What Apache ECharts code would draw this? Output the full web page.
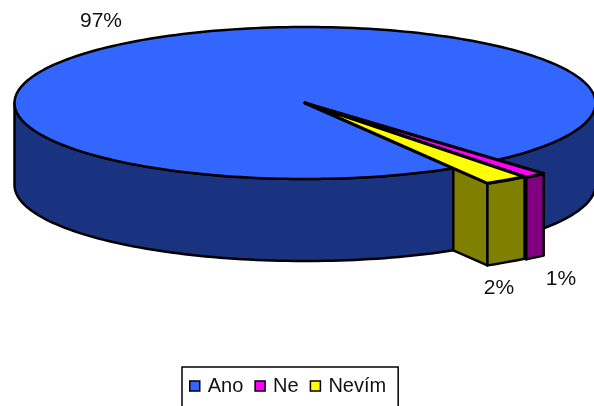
<!DOCTYPE html>
<html>
<head>
<meta charset="utf-8">
<style>html,body{margin:0;padding:0;background:#fff;overflow:hidden}#chart{width:594px;height:406px}</style>
<script src="https://cdn.jsdelivr.net/npm/echarts@6/dist/echarts.min.js"></script>
</head>
<body>
<div id="chart"></div>
<script>
// Answer shares in percent, in clockwise slice order
const categories = ['Ano', 'Ne', 'Nevím'];
const shares = [97, 1, 2];

const topColors = ['#3366FF', '#FF00FF', '#FFFF00'];
const wallColors = ['#1A3380', '#800080', '#808000'];

// Disc projection: a tilted cylinder seen from above
const disc = { cx: 305, cy: 103, rx: 290.5, ry: 76, depth: 82 };
const firstSliceAngle = 48.5;          // degrees clockwise from east where "Ne" begins
const pulledRadius = { Ano: 1, Ne: 1.24, 'Nevím': 1.23 };
const labelCentres = { Ano: [101, 21], Ne: [561, 279], 'Nevím': [499, 288] };

const outline = { stroke: '#000', lineWidth: 2.5, lineJoin: 'round' };
const total = shares.reduce((a, b) => a + b, 0);

// Slices run clockwise Ne, Nevím, Ano from the starting angle
const spans = {};
let cursor = firstSliceAngle;
[1, 2, 0].forEach(i => {
  const sweep = shares[i] / total * 360;
  spans[categories[i]] = [cursor, cursor + sweep];
  cursor += sweep;
});

function rimPoint(deg, r, drop) {
  const a = deg * Math.PI / 180;
  return [disc.cx + disc.rx * r * Math.cos(a), disc.cy + disc.ry * r * Math.sin(a) + (drop || 0)];
}
function arcPoints(from, to, r, drop) {
  const n = Math.max(2, Math.ceil(Math.abs(to - from) / 1.5));
  const pts = [];
  for (let i = 0; i <= n; i++) pts.push(rimPoint(from + (to - from) * i / n, r, drop));
  return pts;
}
function poly(points, fill, lineWidth) {
  const style = Object.assign({ fill }, outline);
  if (lineWidth) style.lineWidth = lineWidth;
  return { type: 'polygon', shape: { points }, style };
}
// Outer wall of a slice, only where the rim faces the viewer
function outerWalls(from, to, r, fill) {
  const parts = [];
  for (let k = 0; k < 2; k++) {
    const a = Math.max(from, k * 360), b = Math.min(to, k * 360 + 180);
    if (b > a) {
      parts.push(poly(arcPoints(a, b, r, 0).concat(arcPoints(b, a, r, disc.depth)), fill));
    }
  }
  return parts;
}
// Cut face along the leading radius, from the main disc's rim out to the slice's rim
function cutFace(deg, r, fill) {
  return poly([
    rimPoint(deg, 1, 0), rimPoint(deg, r, 0),
    rimPoint(deg, r, disc.depth), rimPoint(deg, 1, disc.depth)
  ], fill);
}
// Narrow pulled-out slices get a heavier edge so their tips close up in black
function sliceTop(from, to, r, fill) {
  return poly([[disc.cx, disc.cy]].concat(arcPoints(from, to, r, 0)), fill, r > 1 ? 3.2 : 0);
}
function valueLabel(name, value) {
  const c = labelCentres[name];
  return {
    type: 'text', x: c[0], y: c[1],
    style: { text: value + '%', fill: '#111', font: '21px "Liberation Sans", Arial, sans-serif', align: 'center', verticalAlign: 'middle' }
  };
}

function sliceSeries(index) {
  const name = categories[index];
  return {
    type: 'custom',
    name,
    coordinateSystem: 'none',
    silent: true,
    animation: false,
    itemStyle: { color: topColors[index] },
    data: [shares[index]],
    renderItem: function (params, api) {
      const [from, to] = spans[name];
      const r = pulledRadius[name];
      const children = [];
      if (r > 1) children.push(cutFace(to, r, wallColors[index]));
      children.push(...outerWalls(from, to, r, wallColors[index]));
      children.push(sliceTop(from, to, r, topColors[index]));
      children.push(valueLabel(name, api.value(0)));
      return { type: 'group', children };
    }
  };
}

const chart = echarts.init(document.getElementById('chart'), null, { renderer: 'canvas' });
chart.setOption({
  backgroundColor: '#fff',
  animation: false,
  legend: {
    data: categories,
    left: 182,
    top: 367,
    orient: 'horizontal',
    padding: [9, 12, 40, 7],
    borderColor: '#000',
    borderWidth: 1.5,
    icon: 'rect',
    itemWidth: 10,
    itemHeight: 10,
    itemGap: 11,
    itemStyle: { borderColor: '#000', borderWidth: 1.5 },
    textStyle: { color: '#111', fontFamily: '"Liberation Sans", Arial, sans-serif', fontSize: 20, padding: [0, 0, 0, 3] },
    selectedMode: false
  },
  // Main disc first, the pulled-out slices on top of it
  series: [sliceSeries(0), sliceSeries(1), sliceSeries(2)]
});
</script>
</body>
</html>
